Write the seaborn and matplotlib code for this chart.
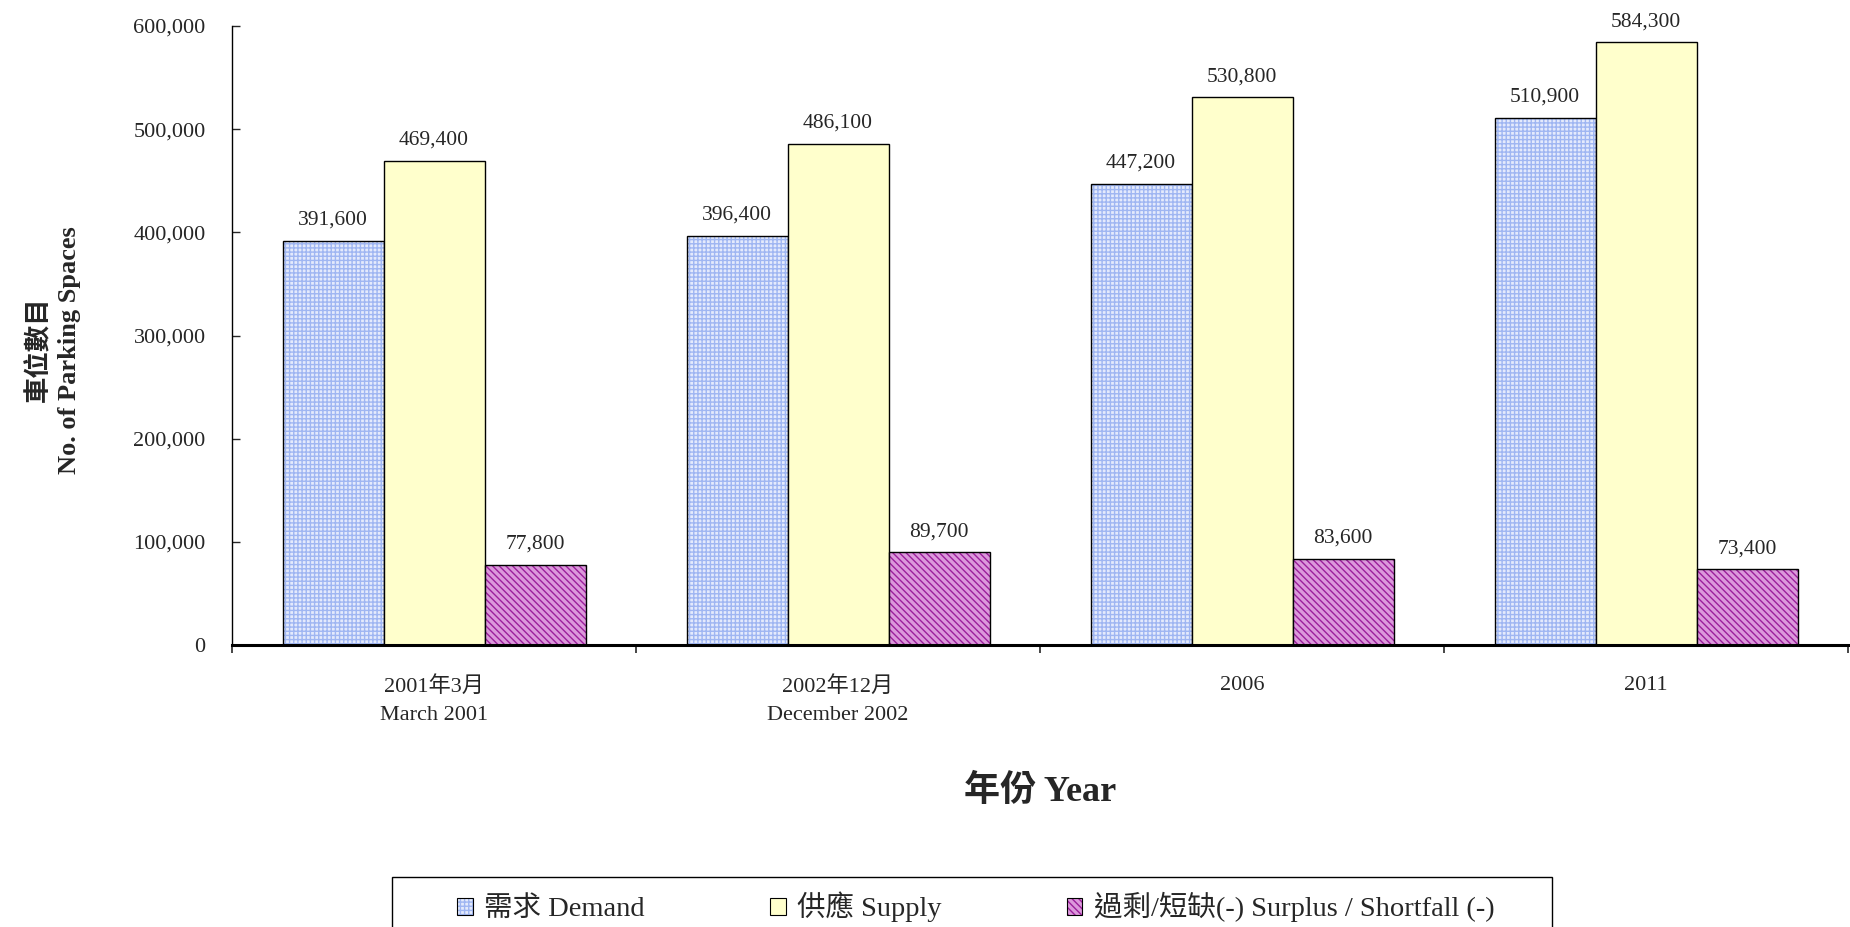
import numpy as np
import pandas as pd
import matplotlib
matplotlib.use('Agg')
import matplotlib.pyplot as plt
import matplotlib.patches as mpatches
import matplotlib.colors as mcolors
from matplotlib.ticker import FuncFormatter, FixedLocator
import seaborn as sns

# data
years = ['2001年3月\nMarch 2001', '2002年12月\nDecember 2002', '2006', '2011']
demand = [391600, 396400, 447200, 510900]
supply = [469400, 486100, 530800, 584300]
surplus = [77800, 89700, 83600, 73400]
series = ['需求 Demand', '供應 Supply', '過剩/短缺(-) Surplus / Shortfall (-)']

face = ['#e4eafc', '#ffffcc', '#dc98dc']
hatches = ['++++', None, '\\\\\\\\\\']
hatch_col = ['#9fb6f2', None, '#9c1f9c']

df = pd.DataFrame({
    'year': years * 3,
    'series': [series[0]] * 4 + [series[1]] * 4 + [series[2]] * 4,
    'value': demand + supply + surplus,
})

sns.set_style('white')
plt.rcParams['font.family'] = ['Liberation Serif', 'Noto Sans CJK TC']
plt.rcParams['hatch.linewidth'] = 1.0


def style_patch(p, i, lw=1):
    p.set_facecolor(face[i])
    p.set_edgecolor('black')
    p.set_linewidth(lw)
    if hatches[i]:
        p.set_hatch(hatches[i])
        # hatch follows edgecolor by default, so override it
        p._hatch_color = mcolors.to_rgba(hatch_col[i])
        p.stale = True


fig = plt.figure(figsize=(18.5, 9.27), dpi=100)
ax = fig.add_axes([232 / 1850, 1 - 645 / 927, 1616 / 1850, (645 - 26) / 927])

sns.barplot(data=df, x='year', y='value', hue='series', order=years,
            hue_order=series, palette=face, width=0.75, gap=0,
            edgecolor='black', linewidth=1, ax=ax, legend=False)

for i, cont in enumerate(ax.containers):
    for p in cont:
        style_patch(p, i)
    ax.bar_label(cont, labels=[f'{v:,.0f}' for v in cont.datavalues],
                 padding=8, fontsize=15.5)

ax.set_ylim(0, 600000)
ax.set_xlim(-0.5, 3.5)
ax.set_yticks(np.arange(0, 600001, 100000))
ax.yaxis.set_major_formatter(FuncFormatter(lambda v, _: f'{v:,.0f}'))
ax.tick_params(axis='y', direction='in', length=6, width=1, pad=19,
               labelsize=16, left=True)
ax.xaxis.set_minor_locator(FixedLocator(np.arange(-0.5, 3.6, 1)))
ax.tick_params(axis='x', which='major', length=0, pad=22, labelsize=16)
ax.tick_params(axis='x', which='minor', direction='out', length=6, width=1.2,
               bottom=True)
for t in ax.get_xticklabels():
    t.set_linespacing(1.7)

for s in ['top', 'right']:
    ax.spines[s].set_visible(False)
ax.spines['left'].set_linewidth(1)
ax.spines['bottom'].set_linewidth(2.2)
ax.spines['left'].set_color('black')
ax.spines['bottom'].set_color('black')

ax.set_ylabel('車位數目\nNo. of Parking Spaces', fontsize=19,
              fontweight='bold', linespacing=1.35)
ax.yaxis.set_label_coords(-0.0935, 0.477)
ax.set_xlabel('年份 Year', fontsize=26, fontweight='bold')
ax.xaxis.set_label_coords(0.5, -0.21)

handles = []
for i in range(3):
    h = mpatches.Patch(label=series[i])
    style_patch(h, i, lw=0.8)
    handles.append(h)
fig.legend(handles=handles, loc='center left', ncol=3, frameon=False,
           bbox_to_anchor=(457 / 1850, 1 - 907 / 927), fontsize=20.5,
           handlelength=0.55, handleheight=0.55, handletextpad=0.4,
           columnspacing=4.4, borderpad=0, borderaxespad=0)
fig.patches.append(mpatches.Rectangle((392 / 1850, -0.1), 1160 / 1850,
                                      0.1 + 1 - 877 / 927,
                                      transform=fig.transFigure, fill=False,
                                      edgecolor='black', linewidth=1))

fig.savefig('out.png', dpi=100)
